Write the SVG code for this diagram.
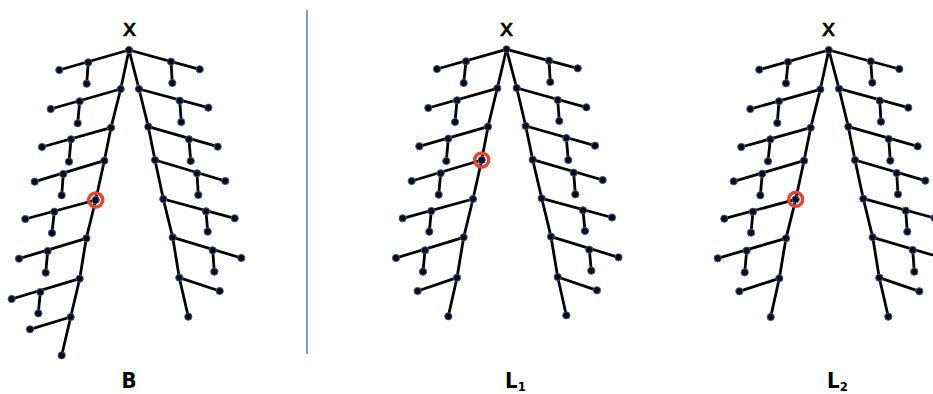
<svg xmlns="http://www.w3.org/2000/svg" width="933" height="394" viewBox="0 0 933 394">
<style>
.e{fill:none;stroke:#000;stroke-width:2.8;stroke-linecap:round;stroke-linejoin:round}
.n{fill:#0a0a14;stroke:#3b5a94;stroke-width:1}
.hl{fill:none;stroke:#e8442c;stroke-width:3.4}
.x{font-family:"DejaVu Sans",sans-serif;font-size:23px;text-anchor:middle;fill:#000;stroke:#000;stroke-width:0.7}
.lbl{font-family:"DejaVu Sans Condensed","DejaVu Sans",sans-serif;font-size:22px;font-weight:bold;fill:#000}
</style>
<rect width="933" height="394" fill="#fff"/>
<line x1="307" y1="10" x2="307" y2="354" stroke="#3f6ea8" stroke-width="1.3"/>

<g id="connectors">
  <g id="edges-B">
    <polyline class="e" points="129,50 120.7,89 111,127.7 104.3,160.7 95.7,200 86.3,238.3 79.7,278.7 70.7,317 61.7,355.3"/>
    <polyline class="e" points="129,50 139,89 148.3,126.7 155,160 163.3,199 172.7,237.3 179.3,277.7 188.3,316.7"/>
    <path class="e" d="M129,50L59.3,70M120.7,89L50.7,109M111,127.7L42,147M104.3,160.7L34.7,181.7M95.7,200L25.3,219M86.3,238.3L19,258.7M79.7,278.7L11.7,299M70.7,317L30,329.3"/>
    <path class="e" d="M88.3,62.3L86.7,83.7M79.7,101.3L77.7,123.3M71,139.3L69,161.7M63.3,174L61.7,195.3M54.3,211.7L52,233M47.7,251L45.7,272.7M40.3,292L38.3,313.3"/>
    <path class="e" d="M129,50L199.7,69.3M139,89L208.3,107.7M148.3,126.7L217.7,146.7M155,160L225.3,181M163.3,199L234.7,218.3M172.7,237.3L241.3,258M179.3,277.7L219.7,291"/>
    <path class="e" d="M171,61.7L172.3,83M179.7,100.7L181.3,122M189,139.3L190.7,161M197,173.3L198.3,195M206,211.3L207.7,231.7M212.7,250.3L214.3,271.7"/>
  </g>
  <g id="edges-L1">
    <polyline class="e" points="506.5,49.3 497.3,88.3 488,126.7 481.7,160 473,199 463.7,237.3 457,277.7 448.3,316.3"/>
    <polyline class="e" points="506.5,49.3 516.7,88 525.7,126 532.7,159.7 541.7,198.3 551,236.7 557.7,277 566.3,315.3"/>
    <path class="e" d="M506.5,49.3L437,69M497.3,88.3L428.3,108M488,126.7L419.3,146.3M481.7,160L411.7,181M473,199L402.7,218.3M463.7,237.3L396,258M457,277.7L417.7,291"/>
    <path class="e" d="M466,61.3L463.7,83M457,100.3L455,122M448.3,138.7L446.3,161M440.7,173.3L438.7,194.7M431.3,211L429.3,231.7M425,250.3L423,271.7"/>
    <path class="e" d="M506.5,49.3L577.7,68.3M516.7,88L586.3,107.3M525.7,126L595,145.7M532.7,159.7L602.7,180M541.7,198.3L612,217.5M551,236.7L618.5,257.3M557.7,277L597,290.3"/>
    <path class="e" d="M549,60.7L550.3,82M557.7,100L559.3,121M566.3,138L568.3,160M573.7,172.7L575.3,194.3M583,210.3L585,231M589.3,249.7L591.3,270.7"/>
  </g>
  <g id="edges-L2">
    <polyline class="e" points="828.8,50 820.3,89.3 810.7,127.7 804,160.7 795.7,199.3 786,238.3 779.3,278.3 770.7,317"/>
    <polyline class="e" points="828.8,50 839,88.7 848.3,126.7 855,160 863.3,198.7 872.7,237.3 879.3,277.7 888.3,316.7"/>
    <path class="e" d="M828.8,50L759.3,69.7M820.3,89.3L750.3,109M810.7,127.7L741.3,147M804,160.7L733.7,181.3M795.7,199.3L724.3,218.7M786,238.3L717.7,258.3M779.3,278.3L739.3,291.3"/>
    <path class="e" d="M788,62L786,83.3M779,101.3L777.3,123M770.3,139.3L768,161.3M762.3,173.7L760.3,195.3M753,211.7L751,232.7M746.7,250.7L744.7,272.3"/>
    <path class="e" d="M828.8,50L899.3,69M839,88.7L908.3,107.7M848.3,126.7L917.7,146.3M855,160L925.3,180.7M863.3,198.7L934.5,218M872.7,237.3L941,257.5M879.3,277.7L919.3,291.3"/>
    <path class="e" d="M870.7,61.3L872.3,82.7M879.7,100.7L881,121.7M888.7,139L890.3,160.7M896.7,173L898,194.3M905.7,210.7L907.3,231.7M912.7,250L914.3,271.7"/>
  </g>
</g>

<g id="tree-B">
  <circle id="B-root" class="n" cx="129" cy="50" r="3.6"/>
  <g id="B-left">
    <circle class="n" cx="120.7" cy="89" r="3.6"/><circle class="n" cx="111" cy="127.7" r="3.6"/><circle class="n" cx="104.3" cy="160.7" r="3.6"/><circle class="n" cx="95.7" cy="200" r="3.6"/><circle class="n" cx="86.3" cy="238.3" r="3.6"/><circle class="n" cx="79.7" cy="278.7" r="3.6"/><circle class="n" cx="70.7" cy="317" r="3.6"/><circle class="n" cx="61.7" cy="355.3" r="3.6"/>
    <circle class="n" cx="59.3" cy="70" r="3.6"/><circle class="n" cx="50.7" cy="109" r="3.6"/><circle class="n" cx="42" cy="147" r="3.6"/><circle class="n" cx="34.7" cy="181.7" r="3.6"/><circle class="n" cx="25.3" cy="219" r="3.6"/><circle class="n" cx="19" cy="258.7" r="3.6"/><circle class="n" cx="11.7" cy="299" r="3.6"/><circle class="n" cx="30" cy="329.3" r="3.6"/>
    <circle class="n" cx="88.3" cy="62.3" r="3.6"/><circle class="n" cx="79.7" cy="101.3" r="3.6"/><circle class="n" cx="71" cy="139.3" r="3.6"/><circle class="n" cx="63.3" cy="174" r="3.6"/><circle class="n" cx="54.3" cy="211.7" r="3.6"/><circle class="n" cx="47.7" cy="251" r="3.6"/><circle class="n" cx="40.3" cy="292" r="3.6"/>
    <circle class="n" cx="86.7" cy="83.7" r="3.6"/><circle class="n" cx="77.7" cy="123.3" r="3.6"/><circle class="n" cx="69" cy="161.7" r="3.6"/><circle class="n" cx="61.7" cy="195.3" r="3.6"/><circle class="n" cx="52" cy="233" r="3.6"/><circle class="n" cx="45.7" cy="272.7" r="3.6"/><circle class="n" cx="38.3" cy="313.3" r="3.6"/>
  </g>
  <g id="B-right">
    <circle class="n" cx="139" cy="89" r="3.6"/><circle class="n" cx="148.3" cy="126.7" r="3.6"/><circle class="n" cx="155" cy="160" r="3.6"/><circle class="n" cx="163.3" cy="199" r="3.6"/><circle class="n" cx="172.7" cy="237.3" r="3.6"/><circle class="n" cx="179.3" cy="277.7" r="3.6"/><circle class="n" cx="188.3" cy="316.7" r="3.6"/>
    <circle class="n" cx="199.7" cy="69.3" r="3.6"/><circle class="n" cx="208.3" cy="107.7" r="3.6"/><circle class="n" cx="217.7" cy="146.7" r="3.6"/><circle class="n" cx="225.3" cy="181" r="3.6"/><circle class="n" cx="234.7" cy="218.3" r="3.6"/><circle class="n" cx="241.3" cy="258" r="3.6"/><circle class="n" cx="219.7" cy="291" r="3.6"/>
    <circle class="n" cx="171" cy="61.7" r="3.6"/><circle class="n" cx="179.7" cy="100.7" r="3.6"/><circle class="n" cx="189" cy="139.3" r="3.6"/><circle class="n" cx="197" cy="173.3" r="3.6"/><circle class="n" cx="206" cy="211.3" r="3.6"/><circle class="n" cx="212.7" cy="250.3" r="3.6"/>
    <circle class="n" cx="172.3" cy="83" r="3.6"/><circle class="n" cx="181.3" cy="122" r="3.6"/><circle class="n" cx="190.7" cy="161" r="3.6"/><circle class="n" cx="198.3" cy="195" r="3.6"/><circle class="n" cx="207.7" cy="231.7" r="3.6"/><circle class="n" cx="214.3" cy="271.7" r="3.6"/>
  </g>
  <circle id="B-mark" class="hl" cx="95.7" cy="200" r="7"/>
  <text class="x" x="129.5" y="36">x</text>
  <text id="B-label" class="lbl" x="129" y="388" text-anchor="middle">B</text>
</g>

<g id="tree-L1">
  <circle id="L1-root" class="n" cx="506.5" cy="49.3" r="3.6"/>
  <g id="L1-left">
    <circle class="n" cx="497.3" cy="88.3" r="3.6"/><circle class="n" cx="488" cy="126.7" r="3.6"/><circle class="n" cx="481.7" cy="160" r="3.6"/><circle class="n" cx="473" cy="199" r="3.6"/><circle class="n" cx="463.7" cy="237.3" r="3.6"/><circle class="n" cx="457" cy="277.7" r="3.6"/><circle class="n" cx="448.3" cy="316.3" r="3.6"/>
    <circle class="n" cx="437" cy="69" r="3.6"/><circle class="n" cx="428.3" cy="108" r="3.6"/><circle class="n" cx="419.3" cy="146.3" r="3.6"/><circle class="n" cx="411.7" cy="181" r="3.6"/><circle class="n" cx="402.7" cy="218.3" r="3.6"/><circle class="n" cx="396" cy="258" r="3.6"/><circle class="n" cx="417.7" cy="291" r="3.6"/>
    <circle class="n" cx="466" cy="61.3" r="3.6"/><circle class="n" cx="457" cy="100.3" r="3.6"/><circle class="n" cx="448.3" cy="138.7" r="3.6"/><circle class="n" cx="440.7" cy="173.3" r="3.6"/><circle class="n" cx="431.3" cy="211" r="3.6"/><circle class="n" cx="425" cy="250.3" r="3.6"/>
    <circle class="n" cx="463.7" cy="83" r="3.6"/><circle class="n" cx="455" cy="122" r="3.6"/><circle class="n" cx="446.3" cy="161" r="3.6"/><circle class="n" cx="438.7" cy="194.7" r="3.6"/><circle class="n" cx="429.3" cy="231.7" r="3.6"/><circle class="n" cx="423" cy="271.7" r="3.6"/>
  </g>
  <g id="L1-right">
    <circle class="n" cx="516.7" cy="88" r="3.6"/><circle class="n" cx="525.7" cy="126" r="3.6"/><circle class="n" cx="532.7" cy="159.7" r="3.6"/><circle class="n" cx="541.7" cy="198.3" r="3.6"/><circle class="n" cx="551" cy="236.7" r="3.6"/><circle class="n" cx="557.7" cy="277" r="3.6"/><circle class="n" cx="566.3" cy="315.3" r="3.6"/>
    <circle class="n" cx="577.7" cy="68.3" r="3.6"/><circle class="n" cx="586.3" cy="107.3" r="3.6"/><circle class="n" cx="595" cy="145.7" r="3.6"/><circle class="n" cx="602.7" cy="180" r="3.6"/><circle class="n" cx="612" cy="217.5" r="3.6"/><circle class="n" cx="618.5" cy="257.3" r="3.6"/><circle class="n" cx="597" cy="290.3" r="3.6"/>
    <circle class="n" cx="549" cy="60.7" r="3.6"/><circle class="n" cx="557.7" cy="100" r="3.6"/><circle class="n" cx="566.3" cy="138" r="3.6"/><circle class="n" cx="573.7" cy="172.7" r="3.6"/><circle class="n" cx="583" cy="210.3" r="3.6"/><circle class="n" cx="589.3" cy="249.7" r="3.6"/>
    <circle class="n" cx="550.3" cy="82" r="3.6"/><circle class="n" cx="559.3" cy="121" r="3.6"/><circle class="n" cx="568.3" cy="160" r="3.6"/><circle class="n" cx="575.3" cy="194.3" r="3.6"/><circle class="n" cx="585" cy="231" r="3.6"/><circle class="n" cx="591.3" cy="270.7" r="3.6"/>
  </g>
  <circle id="L1-mark" class="hl" cx="481.7" cy="160" r="7"/>
  <text class="x" x="506.5" y="35.5">x</text>
  <text id="L1-label" class="lbl" x="505" y="388">L<tspan font-size="13" dy="3">1</tspan></text>
</g>

<g id="tree-L2">
  <circle id="L2-root" class="n" cx="828.8" cy="50" r="3.6"/>
  <g id="L2-left">
    <circle class="n" cx="820.3" cy="89.3" r="3.6"/><circle class="n" cx="810.7" cy="127.7" r="3.6"/><circle class="n" cx="804" cy="160.7" r="3.6"/><circle class="n" cx="795.7" cy="199.3" r="3.6"/><circle class="n" cx="786" cy="238.3" r="3.6"/><circle class="n" cx="779.3" cy="278.3" r="3.6"/><circle class="n" cx="770.7" cy="317" r="3.6"/>
    <circle class="n" cx="759.3" cy="69.7" r="3.6"/><circle class="n" cx="750.3" cy="109" r="3.6"/><circle class="n" cx="741.3" cy="147" r="3.6"/><circle class="n" cx="733.7" cy="181.3" r="3.6"/><circle class="n" cx="724.3" cy="218.7" r="3.6"/><circle class="n" cx="717.7" cy="258.3" r="3.6"/><circle class="n" cx="739.3" cy="291.3" r="3.6"/>
    <circle class="n" cx="788" cy="62" r="3.6"/><circle class="n" cx="779" cy="101.3" r="3.6"/><circle class="n" cx="770.3" cy="139.3" r="3.6"/><circle class="n" cx="762.3" cy="173.7" r="3.6"/><circle class="n" cx="753" cy="211.7" r="3.6"/><circle class="n" cx="746.7" cy="250.7" r="3.6"/>
    <circle class="n" cx="786" cy="83.3" r="3.6"/><circle class="n" cx="777.3" cy="123" r="3.6"/><circle class="n" cx="768" cy="161.3" r="3.6"/><circle class="n" cx="760.3" cy="195.3" r="3.6"/><circle class="n" cx="751" cy="232.7" r="3.6"/><circle class="n" cx="744.7" cy="272.3" r="3.6"/>
  </g>
  <g id="L2-right">
    <circle class="n" cx="839" cy="88.7" r="3.6"/><circle class="n" cx="848.3" cy="126.7" r="3.6"/><circle class="n" cx="855" cy="160" r="3.6"/><circle class="n" cx="863.3" cy="198.7" r="3.6"/><circle class="n" cx="872.7" cy="237.3" r="3.6"/><circle class="n" cx="879.3" cy="277.7" r="3.6"/><circle class="n" cx="888.3" cy="316.7" r="3.6"/>
    <circle class="n" cx="899.3" cy="69" r="3.6"/><circle class="n" cx="908.3" cy="107.7" r="3.6"/><circle class="n" cx="917.7" cy="146.3" r="3.6"/><circle class="n" cx="925.3" cy="180.7" r="3.6"/><circle class="n" cx="934.5" cy="218" r="3.6"/><circle class="n" cx="941" cy="257.5" r="3.6"/><circle class="n" cx="919.3" cy="291.3" r="3.6"/>
    <circle class="n" cx="870.7" cy="61.3" r="3.6"/><circle class="n" cx="879.7" cy="100.7" r="3.6"/><circle class="n" cx="888.7" cy="139" r="3.6"/><circle class="n" cx="896.7" cy="173" r="3.6"/><circle class="n" cx="905.7" cy="210.7" r="3.6"/><circle class="n" cx="912.7" cy="250" r="3.6"/>
    <circle class="n" cx="872.3" cy="82.7" r="3.6"/><circle class="n" cx="881" cy="121.7" r="3.6"/><circle class="n" cx="890.3" cy="160.7" r="3.6"/><circle class="n" cx="898" cy="194.3" r="3.6"/><circle class="n" cx="907.3" cy="231.7" r="3.6"/><circle class="n" cx="914.3" cy="271.7" r="3.6"/>
  </g>
  <circle id="L2-mark" class="hl" cx="795.7" cy="199.3" r="7"/>
  <text class="x" x="828.5" y="35.5">x</text>
  <text id="L2-label" class="lbl" x="827" y="388">L<tspan font-size="13" dy="3">2</tspan></text>
</g>
</svg>
